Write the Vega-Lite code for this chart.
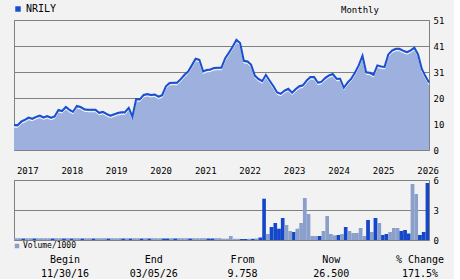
{
  "$schema": "https://vega.github.io/schema/vega-lite/v6.json",
  "background": "#f2f2f2",
  "padding": {"left": 9, "top": 3, "right": 0, "bottom": 0},
  "config": {
    "view": {"stroke": "#808080", "strokeWidth": 1},
    "font": "DejaVu Sans Mono",
    "axis": {"labelFont": "DejaVu Sans Mono", "labelColor": "#000000", "gridColor": "#808080", "gridOpacity": 1, "gridWidth": 1, "domain": false, "ticks": false},
    "legend": {"labelFont": "DejaVu Sans Mono", "padding": 0, "labelColor": "#000000"}
  },
  "datasets": {
    "px": [
      {"d":"2016-11-01","p":"2016-10-01","c":9.76,"v":0.18,"k":"L"},
      {"d":"2016-12-01","p":"2016-11-01","c":9.7,"v":0.18,"k":"L"},
      {"d":"2017-01-01","p":"2016-12-01","c":11.2,"v":0.18,"k":"L"},
      {"d":"2017-02-01","p":"2017-01-01","c":11.9,"v":0.15,"k":"D"},
      {"d":"2017-03-01","p":"2017-02-01","c":12.7,"v":0.18,"k":"L"},
      {"d":"2017-04-01","p":"2017-03-01","c":12.3,"v":0.18,"k":"L"},
      {"d":"2017-05-01","p":"2017-04-01","c":13.0,"v":0.15,"k":"D"},
      {"d":"2017-06-01","p":"2017-05-01","c":13.5,"v":0.18,"k":"L"},
      {"d":"2017-07-01","p":"2017-06-01","c":12.8,"v":0.18,"k":"L"},
      {"d":"2017-08-01","p":"2017-07-01","c":13.3,"v":0.18,"k":"L"},
      {"d":"2017-09-01","p":"2017-08-01","c":12.7,"v":0.18,"k":"L"},
      {"d":"2017-10-01","p":"2017-09-01","c":13.2,"v":0.15,"k":"D"},
      {"d":"2017-11-01","p":"2017-10-01","c":15.7,"v":0.18,"k":"L"},
      {"d":"2017-12-01","p":"2017-11-01","c":15.3,"v":0.18,"k":"L"},
      {"d":"2018-01-01","p":"2017-12-01","c":16.9,"v":0.15,"k":"D"},
      {"d":"2018-02-01","p":"2018-01-01","c":15.7,"v":0.18,"k":"L"},
      {"d":"2018-03-01","p":"2018-02-01","c":15.0,"v":0.15,"k":"D"},
      {"d":"2018-04-01","p":"2018-03-01","c":17.3,"v":0.18,"k":"L"},
      {"d":"2018-05-01","p":"2018-04-01","c":16.9,"v":0.18,"k":"L"},
      {"d":"2018-06-01","p":"2018-05-01","c":16.0,"v":0.15,"k":"D"},
      {"d":"2018-07-01","p":"2018-06-01","c":15.8,"v":0.18,"k":"L"},
      {"d":"2018-08-01","p":"2018-07-01","c":15.8,"v":0.18,"k":"L"},
      {"d":"2018-09-01","p":"2018-08-01","c":15.8,"v":0.15,"k":"D"},
      {"d":"2018-10-01","p":"2018-09-01","c":14.6,"v":0.18,"k":"L"},
      {"d":"2018-11-01","p":"2018-10-01","c":15.0,"v":0.18,"k":"L"},
      {"d":"2018-12-01","p":"2018-11-01","c":14.2,"v":0.18,"k":"L"},
      {"d":"2019-01-01","p":"2018-12-01","c":13.5,"v":0.15,"k":"D"},
      {"d":"2019-02-01","p":"2019-01-01","c":14.0,"v":0.18,"k":"L"},
      {"d":"2019-03-01","p":"2019-02-01","c":14.5,"v":0.18,"k":"L"},
      {"d":"2019-04-01","p":"2019-03-01","c":14.8,"v":0.18,"k":"L"},
      {"d":"2019-05-01","p":"2019-04-01","c":14.8,"v":0.15,"k":"D"},
      {"d":"2019-06-01","p":"2019-05-01","c":16.5,"v":0.18,"k":"L"},
      {"d":"2019-07-01","p":"2019-06-01","c":13.1,"v":0.15,"k":"D"},
      {"d":"2019-08-01","p":"2019-07-01","c":20.0,"v":0.18,"k":"L"},
      {"d":"2019-09-01","p":"2019-08-01","c":19.9,"v":0.18,"k":"L"},
      {"d":"2019-10-01","p":"2019-09-01","c":21.6,"v":0.15,"k":"D"},
      {"d":"2019-11-01","p":"2019-10-01","c":22.0,"v":0.18,"k":"L"},
      {"d":"2019-12-01","p":"2019-11-01","c":21.6,"v":0.15,"k":"D"},
      {"d":"2020-01-01","p":"2019-12-01","c":21.8,"v":0.18,"k":"L"},
      {"d":"2020-02-01","p":"2020-01-01","c":20.9,"v":0.18,"k":"L"},
      {"d":"2020-03-01","p":"2020-02-01","c":21.5,"v":0.18,"k":"L"},
      {"d":"2020-04-01","p":"2020-03-01","c":25.0,"v":0.15,"k":"D"},
      {"d":"2020-05-01","p":"2020-04-01","c":26.3,"v":0.15,"k":"D"},
      {"d":"2020-06-01","p":"2020-05-01","c":26.4,"v":0.18,"k":"L"},
      {"d":"2020-07-01","p":"2020-06-01","c":26.4,"v":0.15,"k":"D"},
      {"d":"2020-08-01","p":"2020-07-01","c":27.8,"v":0.18,"k":"L"},
      {"d":"2020-09-01","p":"2020-08-01","c":29.5,"v":0.18,"k":"L"},
      {"d":"2020-10-01","p":"2020-09-01","c":30.8,"v":0.18,"k":"L"},
      {"d":"2020-11-01","p":"2020-10-01","c":33.3,"v":0.15,"k":"D"},
      {"d":"2020-12-01","p":"2020-11-01","c":35.8,"v":0.18,"k":"L"},
      {"d":"2021-01-01","p":"2020-12-01","c":35.4,"v":0.18,"k":"L"},
      {"d":"2021-02-01","p":"2021-01-01","c":30.8,"v":0.18,"k":"L"},
      {"d":"2021-03-01","p":"2021-02-01","c":31.4,"v":0.18,"k":"L"},
      {"d":"2021-04-01","p":"2021-03-01","c":31.6,"v":0.15,"k":"D"},
      {"d":"2021-05-01","p":"2021-04-01","c":32.2,"v":0.15,"k":"D"},
      {"d":"2021-06-01","p":"2021-05-01","c":32.3,"v":0.18,"k":"L"},
      {"d":"2021-07-01","p":"2021-06-01","c":32.3,"v":0.18,"k":"L"},
      {"d":"2021-08-01","p":"2021-07-01","c":36.0,"v":0.13,"k":"L"},
      {"d":"2021-09-01","p":"2021-08-01","c":38.2,"v":0.13,"k":"L"},
      {"d":"2021-10-01","p":"2021-09-01","c":40.5,"v":0.4,"k":"L"},
      {"d":"2021-11-01","p":"2021-10-01","c":43.2,"v":0.12,"k":"L"},
      {"d":"2021-12-01","p":"2021-11-01","c":42.0,"v":0.12,"k":"L"},
      {"d":"2022-01-01","p":"2021-12-01","c":35.0,"v":0.1,"k":"D"},
      {"d":"2022-02-01","p":"2022-01-01","c":34.7,"v":0.1,"k":"D"},
      {"d":"2022-03-01","p":"2022-02-01","c":33.5,"v":0.12,"k":"L"},
      {"d":"2022-04-01","p":"2022-03-01","c":29.2,"v":0.12,"k":"D"},
      {"d":"2022-05-01","p":"2022-04-01","c":27.9,"v":0.15,"k":"L"},
      {"d":"2022-06-01","p":"2022-05-01","c":27.0,"v":0.25,"k":"D"},
      {"d":"2022-07-01","p":"2022-06-01","c":29.5,"v":4.13,"k":"D"},
      {"d":"2022-08-01","p":"2022-07-01","c":27.2,"v":0.6,"k":"L"},
      {"d":"2022-09-01","p":"2022-08-01","c":25.0,"v":1.3,"k":"D"},
      {"d":"2022-10-01","p":"2022-09-01","c":22.6,"v":1.7,"k":"D"},
      {"d":"2022-11-01","p":"2022-10-01","c":22.1,"v":1.13,"k":"D"},
      {"d":"2022-12-01","p":"2022-11-01","c":23.3,"v":2.2,"k":"D"},
      {"d":"2023-01-01","p":"2022-12-01","c":24.0,"v":1.5,"k":"L"},
      {"d":"2023-02-01","p":"2023-01-01","c":22.5,"v":0.9,"k":"L"},
      {"d":"2023-03-01","p":"2023-02-01","c":23.8,"v":0.8,"k":"D"},
      {"d":"2023-04-01","p":"2023-03-01","c":25.0,"v":1.13,"k":"L"},
      {"d":"2023-05-01","p":"2023-04-01","c":25.4,"v":1.7,"k":"L"},
      {"d":"2023-06-01","p":"2023-05-01","c":27.3,"v":4.2,"k":"L"},
      {"d":"2023-07-01","p":"2023-06-01","c":28.6,"v":2.6,"k":"L"},
      {"d":"2023-08-01","p":"2023-07-01","c":28.6,"v":0.4,"k":"L"},
      {"d":"2023-09-01","p":"2023-08-01","c":26.4,"v":0.4,"k":"L"},
      {"d":"2023-10-01","p":"2023-09-01","c":26.8,"v":0.4,"k":"D"},
      {"d":"2023-11-01","p":"2023-10-01","c":28.3,"v":0.9,"k":"L"},
      {"d":"2023-12-01","p":"2023-11-01","c":29.3,"v":2.4,"k":"L"},
      {"d":"2024-01-01","p":"2023-12-01","c":29.8,"v":0.6,"k":"L"},
      {"d":"2024-02-01","p":"2024-01-01","c":28.0,"v":0.47,"k":"L"},
      {"d":"2024-03-01","p":"2024-02-01","c":28.0,"v":0.5,"k":"D"},
      {"d":"2024-04-01","p":"2024-03-01","c":24.4,"v":0.6,"k":"L"},
      {"d":"2024-05-01","p":"2024-04-01","c":26.4,"v":1.3,"k":"D"},
      {"d":"2024-06-01","p":"2024-05-01","c":28.0,"v":0.9,"k":"L"},
      {"d":"2024-07-01","p":"2024-06-01","c":30.3,"v":0.7,"k":"L"},
      {"d":"2024-08-01","p":"2024-07-01","c":33.2,"v":0.7,"k":"L"},
      {"d":"2024-09-01","p":"2024-08-01","c":37.0,"v":1.2,"k":"L"},
      {"d":"2024-10-01","p":"2024-09-01","c":30.5,"v":0.4,"k":"L"},
      {"d":"2024-11-01","p":"2024-10-01","c":30.3,"v":2.0,"k":"D"},
      {"d":"2024-12-01","p":"2024-11-01","c":29.5,"v":0.8,"k":"L"},
      {"d":"2025-01-01","p":"2024-12-01","c":33.2,"v":2.2,"k":"D"},
      {"d":"2025-02-01","p":"2025-01-01","c":32.8,"v":1.7,"k":"L"},
      {"d":"2025-03-01","p":"2025-02-01","c":32.6,"v":0.5,"k":"D"},
      {"d":"2025-04-01","p":"2025-03-01","c":37.5,"v":0.6,"k":"D"},
      {"d":"2025-05-01","p":"2025-04-01","c":39.0,"v":0.8,"k":"L"},
      {"d":"2025-06-01","p":"2025-05-01","c":39.7,"v":1.2,"k":"L"},
      {"d":"2025-07-01","p":"2025-06-01","c":39.7,"v":1.2,"k":"L"},
      {"d":"2025-08-01","p":"2025-07-01","c":39.0,"v":0.9,"k":"D"},
      {"d":"2025-09-01","p":"2025-08-01","c":38.4,"v":1.0,"k":"D"},
      {"d":"2025-10-01","p":"2025-09-01","c":39.1,"v":0.65,"k":"D"},
      {"d":"2025-11-01","p":"2025-10-01","c":40.1,"v":5.6,"k":"L"},
      {"d":"2025-12-01","p":"2025-11-01","c":37.5,"v":4.6,"k":"L"},
      {"d":"2026-01-01","p":"2025-12-01","c":31.8,"v":0.5,"k":"D"},
      {"d":"2026-02-01","p":"2026-01-01","c":28.8,"v":0.8,"k":"D"},
      {"d":"2026-03-01","p":"2026-02-01","c":26.5,"v":5.7,"k":"D"}
    ],
    "tbl": [
      {"col":0,"row":0,"t":"Begin"},
      {"col":0,"row":1,"t":"11/30/16"},
      {"col":1,"row":0,"t":"End"},
      {"col":1,"row":1,"t":"03/05/26"},
      {"col":2,"row":0,"t":"From"},
      {"col":2,"row":1,"t":"9.758"},
      {"col":3,"row":0,"t":"Now"},
      {"col":3,"row":1,"t":"26.500"},
      {"col":4,"row":0,"t":"% Change"},
      {"col":4,"row":1,"t":"171.5%"}
    ]
  },
  "bounds": "flush",
  "spacing": 30,
  "resolve": {"scale": {"color": "independent", "x": "independent", "y": "independent"}, "legend": {"color": "independent"}},
  "vconcat": [
    {
      "width": 415,
      "height": 130,
      "title": {"text": "Monthly", "anchor": "start", "dx": 331, "offset": -11, "fontSize": 9, "fontWeight": "normal", "font": "DejaVu Sans Mono", "color": "#000000"},
      "data": {"name": "px"},
      "encoding": {
        "x": {"field": "d", "type": "temporal", "scale": {"type": "utc", "nice": false, "domain": [{"year": 2016, "month": 11, "date": 1, "utc": true}, {"year": 2026, "month": 3, "date": 1, "utc": true}]}, "axis": null},
        "y": {"field": "c", "type": "quantitative", "scale": {"domain": [0, 51], "nice": false}, "axis": {"title": null, "orient": "right", "values": [0, 10.2, 20.4, 30.6, 40.8, 51], "labelExpr": "format(round(datum.value), 'd')", "labelFontSize": 9, "labelPadding": 4, "grid": true}}
      },
      "layer": [
        {"mark": {"type": "area", "color": "#9eb0dd"}},
        {"mark": {"type": "line", "color": "#ffffff", "strokeWidth": 1, "yOffset": 2}},
        {
          "mark": {"type": "line", "strokeWidth": 2, "color": "#1a4fd0"},
          "encoding": {
            "color": {"datum": "NRILY", "type": "nominal", "scale": {"range": ["#1a4fd0"]},
              "legend": {"title": null, "orient": "none", "legendX": -1, "legendY": -16, "symbolType": "square", "symbolSize": 30, "labelFontSize": 10, "labelOffset": 3,
                "encode": {"symbols": {"update": {"fill": {"value": "#1a4fd0"}, "stroke": {"value": "#1a4fd0"}, "strokeWidth": {"value": 0}}}}}}
          }
        }
      ]
    },
    {
      "bounds": "flush",
      "spacing": 20,
      "resolve": {"scale": {"color": "independent", "x": "independent", "y": "independent"}},
      "vconcat": [
        {
          "width": 415,
          "height": 60,
          "data": {"name": "px"},
          "mark": {"type": "bar", "clip": true},
          "encoding": {
            "x": {"field": "p", "type": "temporal", "scale": {"type": "utc", "nice": false, "domain": [{"year": 2016, "month": 11, "date": 1, "utc": true}, {"year": 2026, "month": 3, "date": 1, "utc": true}]},
              "axis": {"title": null, "orient": "top", "format": "%Y", "tickCount": {"interval": "year", "step": 1}, "labelAlign": "left", "labelOffset": -5, "labelFontSize": 9, "labelPadding": 5, "grid": false}},
            "x2": {"field": "d"},
            "y": {"field": "v", "type": "quantitative", "scale": {"domain": [0, 6], "nice": false}, "axis": {"title": null, "orient": "right", "values": [0, 3, 6], "grid": true, "labelFontSize": 9, "labelPadding": 4}},
            "y2": {"datum": 0},
            "color": {"field": "k", "type": "nominal", "scale": {"domain": ["D", "L"], "range": ["#1447c9", "#8b9fcb"]},
              "legend": {"values": ["L"], "labelExpr": "'Volume/1000'", "title": null, "orient": "none", "legendX": -1, "legendY": 62, "symbolType": "square", "symbolSize": 20, "labelFontSize": 8, "labelOffset": 2}}
          }
        },
        {
          "width": 440,
          "height": 14,
          "view": {"stroke": null},
          "data": {"name": "tbl"},
          "mark": {"type": "text", "fontSize": 10, "font": "DejaVu Sans Mono", "color": "#000000", "baseline": "middle"},
          "encoding": {
            "x": {"field": "col", "type": "quantitative", "scale": {"domain": [-0.575, 4.383], "nice": false, "zero": false}, "axis": null},
            "y": {"field": "row", "type": "quantitative", "scale": {"domain": [1, 0], "nice": false, "zero": false}, "axis": null},
            "text": {"field": "t"}
          }
        }
      ]
    }
  ]
}
